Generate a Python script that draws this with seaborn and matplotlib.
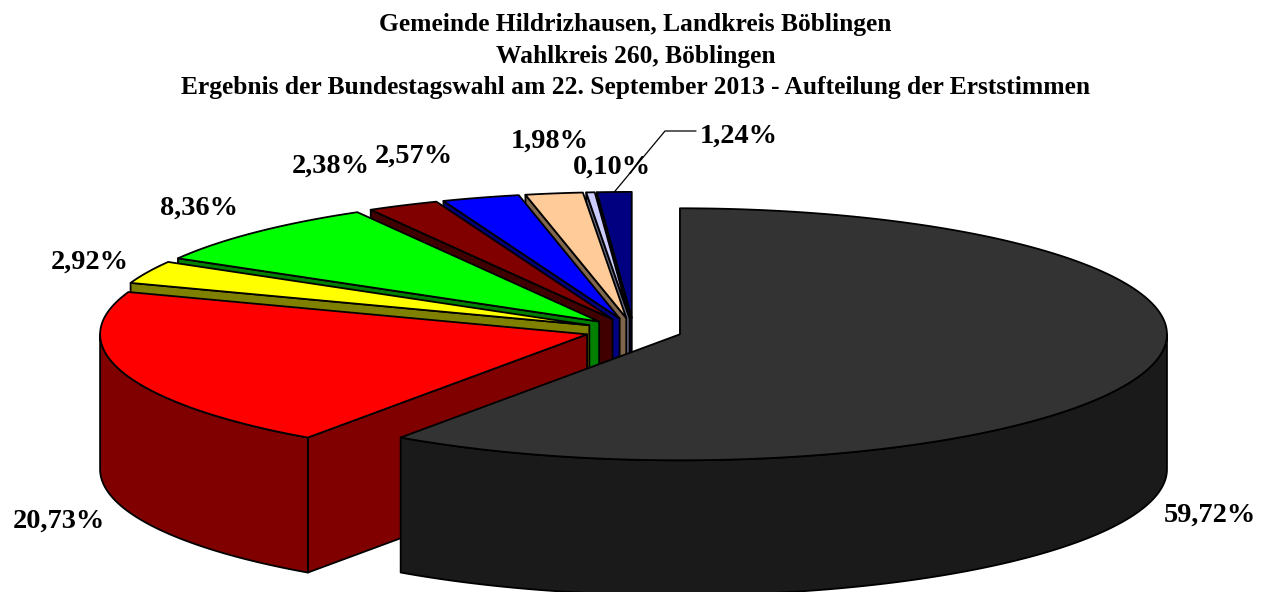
import numpy as np
import matplotlib
matplotlib.use('Agg')
import matplotlib.pyplot as plt
from matplotlib.patches import Polygon
import seaborn as sns

# Values from the chart, clockwise from 12 o'clock
shares = [59.72, 20.73, 2.92, 8.36, 2.38, 2.57, 1.98, 0.10, 1.24]
labels = ['59,72%', '20,73%', '2,92%', '8,36%', '2,38%', '2,57%', '1,98%', '0,10%', '1,24%']
top_colors = ['#333333', '#ff0000', '#ffff00', '#00ff00', '#800000',
              '#0000ff', '#ffcc99', '#ccccff', '#000080']
titles = ['Gemeinde Hildrizhausen, Landkreis Böblingen',
          'Wahlkreis 260, Böblingen',
          'Ergebnis der Bundestagswahl am 22. September 2013 - Aufteilung der Erststimmen']
label_x = [1210, 59, 90, 199, 331, 414, 550, 612, 739]
label_y = [515, 521, 262, 208, 166, 156, 141, 167, 136]

# The thin slices in the picture are not quite the size of their labels,
# lavender is clearly wider than 0,10 %, so these are read off the slices
drawn_shares = [59.72, 20.73, 2.92, 8.36, 2.38, 2.57, 1.90, 0.28, 1.14]

# Pie layout in pixels
cx, cy = 633.5, 330.5
rx, ry = 487, 126
depth = 135
explode = 0.1

sns.set_theme(style='white')
plt.rcParams['font.family'] = ['Liberation Serif', 'DejaVu Serif']

palette = sns.color_palette(top_colors)
wall_colors = [tuple(c * 0.5 for c in col) for col in palette]

fig = plt.figure(figsize=(12.66, 5.92), dpi=100)
ax = fig.add_axes([0, 0, 1, 1])
ax.set_xlim(0, 1266)
ax.set_ylim(592, 0)
ax.axis('off')


def rim(ax0, ay0, a0, a1):
    t = np.radians(np.linspace(a0, a1, max(int(abs(a1 - a0) * 2), 2)))
    return np.column_stack([ax0 + rx * np.sin(t), ay0 - ry * np.cos(t)])


edges = np.concatenate([[0], np.cumsum(drawn_shares)]) * 360 / sum(drawn_shares)
apexes = []
for i in range(len(shares)):
    mid = np.radians((edges[i] + edges[i + 1]) / 2)
    apexes.append((cx + explode * rx * np.sin(mid), cy - explode * ry * np.cos(mid)))

# Back to front so the nearer slices cover the ones behind
for i in range(len(shares) - 1, -1, -1):
    a0, a1 = edges[i], edges[i + 1]
    ax0, ay0 = apexes[i]
    draw_kw = dict(edgecolor='black', linewidth=1.3, joinstyle='round')

    # wall of the start edge, only seen on slices left of the middle
    if a0 > 180:
        p = rim(ax0, ay0, a0, a0)[0]
        wall = [p, (ax0, ay0), (ax0, ay0 + depth), (p[0], p[1] + depth)]
        ax.add_patch(Polygon(wall, closed=True, facecolor=wall_colors[i], **draw_kw))

    # outer wall, front half of the ellipse
    lo, hi = max(a0, 90), min(a1, 270)
    if lo < hi:
        r = rim(ax0, ay0, lo, hi)
        low = r + [0, depth]
        ax.add_patch(Polygon(np.vstack([r, low[::-1]]), closed=True,
                             facecolor=wall_colors[i], **draw_kw))

    top = np.vstack([[(ax0, ay0)], rim(ax0, ay0, a0, a1)])
    ax.add_patch(Polygon(top, closed=True, facecolor=palette[i], **draw_kw))

# Leader line of the last label
last = rim(*apexes[-1], (edges[-2] + edges[-1]) / 2, (edges[-2] + edges[-1]) / 2)[0]
ax.plot([last[0], 665, 696], [last[1], 131, 131], color='black', lw=0.9)

for lab, x, y in zip(labels, label_x, label_y):
    ax.text(x, y, lab, ha='center', va='center', fontsize=20.4, fontweight='bold', color='black')

for line, y in zip(titles, [31, 63, 94]):
    ax.text(635.5, y, line, ha='center', va='baseline', fontsize=18.4, fontweight='bold', color='black')

fig.savefig('out.png', dpi=100)
